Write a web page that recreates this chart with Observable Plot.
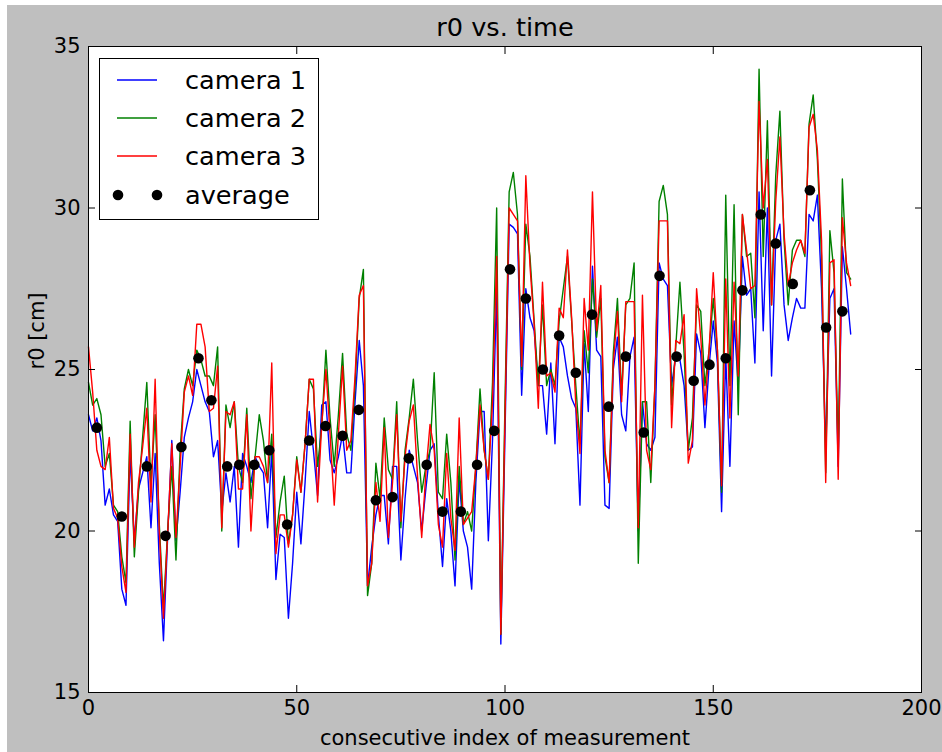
<!DOCTYPE html>
<html><head><meta charset="utf-8">
<script src="https://cdn.jsdelivr.net/npm/d3@7"></script>
<script src="https://cdn.jsdelivr.net/npm/@observablehq/plot@0.6"></script>
<style>
html,body{margin:0;padding:0;background:#fff;}
#wrap{position:relative;width:942px;height:752px;overflow:hidden;}
#bg{position:absolute;left:7px;top:5px;width:935px;height:747px;background:#bfbfbf;}
#chart{position:absolute;left:0;top:0;}
#legend{position:absolute;left:99px;top:58px;width:218px;height:160px;border:1px solid #000;background:#fff;}
</style></head><body>
<div id="wrap"><div id="bg"></div><div id="chart"></div><div id="legend"></div></div>
<script>
const titleText = "r0 vs. time";
const xLabel = "consecutive index of measurement";
const yLabel = "r0 [cm]";
const xTicks = [0, 50, 100, 150, 200];
const yTicks = [15, 20, 25, 30, 35];
const seriesNames = ["camera 1", "camera 2", "camera 3"];
const seriesColors = ["#0000ff", "#008000", "#ff0000"];
const avgName = "average";

const camera1 = [23.6,23.1,23.5,22.8,20.8,21.3,20.5,20.3,18.2,17.7,
22.4,19.7,21.3,21.8,22.3,20.1,22.4,19.0,16.6,19.8,
22.8,19.7,21.2,22.9,23.5,24.0,25.0,24.5,24.0,23.7,
22.3,22.8,20.6,21.8,20.9,22.0,19.5,22.4,22.0,21.5,
22.3,22.0,21.8,20.1,22.5,18.5,19.9,19.8,17.3,19.0,
21.2,19.6,21.5,23.7,22.5,21.1,23.9,24.0,22.2,21.8,
22.3,23.0,21.8,21.8,24.0,25.9,24.5,18.3,19.5,20.5,
21.1,21.1,19.6,22.0,22.0,19.1,21.0,22.5,22.0,21.5,
20.0,21.3,22.5,22.7,20.5,18.9,21.0,20.0,18.3,21.6,
20.0,19.5,18.2,21.5,23.7,23.7,19.7,22.8,27.5,16.5,
23.0,29.5,29.4,29.2,24.2,27.5,26.6,26.2,24.5,24.5,
23.0,25.2,22.7,26.0,25.7,24.8,24.1,23.8,20.8,25.8,
23.7,28.2,25.6,25.4,20.8,20.7,25.0,26.0,23.6,23.1,
25.4,26.0,20.0,24.0,22.7,22.5,22.9,28.3,27.8,27.6,
24.5,25.4,25.3,24.5,22.5,22.6,26.1,25.5,23.2,25.1,
26.5,25.2,20.6,25.4,22.0,26.5,24.5,28.5,27.3,27.5,
25.2,30.5,26.2,30.0,24.8,29.0,29.5,27.0,25.9,26.6,
27.2,26.9,26.9,29.8,29.6,30.4,27.5,22.5,27.2,27.5,
22.0,28.8,27.5,26.1];

const camera2 = [24.6,23.9,24.1,23.6,22.0,22.4,20.8,20.6,19.2,18.4,
23.4,19.2,21.2,22.9,24.6,21.4,23.6,20.2,17.6,20.0,
22.0,19.1,22.5,24.4,25.0,24.5,25.6,25.3,24.8,24.8,
24.5,25.7,20.0,23.9,23.2,24.0,22.0,21.5,23.8,21.0,
22.3,23.6,22.8,21.5,23.0,19.8,20.9,21.7,19.6,20.5,
22.3,21.2,22.7,24.7,24.4,22.0,23.2,25.6,23.5,22.0,
23.6,25.5,23.0,22.5,24.5,27.2,28.1,18.0,19.0,22.1,
21.0,23.5,21.9,21.6,24.0,20.1,22.5,23.5,24.7,22.8,
21.2,22.0,22.5,24.9,21.2,21.0,23.0,21.5,19.1,22.0,
20.2,20.6,20.0,22.0,24.4,22.5,21.6,24.6,30.0,16.8,
24.0,30.5,31.1,29.8,25.0,29.5,28.5,26.5,24.5,27.0,
24.5,25.0,24.5,26.5,27.5,28.5,26.5,24.5,22.7,26.2,
24.9,27.8,26.0,27.2,22.3,21.5,25.5,27.2,24.2,27.0,
27.2,28.3,19.0,24.0,24.0,21.5,24.5,30.2,30.7,29.8,
23.9,25.7,27.7,25.5,22.5,23.5,27.0,26.8,24.5,25.6,
27.2,25.6,21.2,30.4,24.5,30.1,23.6,29.8,28.5,28.6,
26.6,34.3,28.5,32.7,27.0,31.0,33.0,29.0,27.0,28.7,
29.0,29.0,28.5,32.6,33.5,31.5,28.5,21.8,29.3,28.0,
22.3,30.9,28.0,27.8];

const camera3 = [25.7,24.3,22.5,22.0,21.9,22.9,20.7,20.4,18.9,18.1,
23.0,19.5,21.5,22.6,23.8,20.9,24.7,20.0,17.3,19.9,
22.7,19.8,22.0,24.3,24.8,24.2,26.4,26.4,25.7,23.7,
23.8,25.1,20.1,23.7,23.6,24.0,21.3,21.3,23.6,20.0,
22.3,22.3,22.0,21.5,25.2,19.3,20.5,20.5,19.5,20.5,
22.2,21.2,22.7,24.7,24.7,20.9,23.3,25.0,23.0,20.8,
23.0,25.1,22.5,22.8,24.8,27.3,27.6,18.3,19.0,21.5,
20.3,23.2,19.8,21.5,23.6,20.3,22.3,23.4,23.9,21.7,
19.8,21.8,23.3,22.5,20.2,19.5,22.4,20.4,19.4,23.5,
20.2,20.4,20.6,22.0,23.9,22.5,21.6,24.0,28.5,16.8,
23.5,30.0,29.8,29.6,25.1,31.0,28.2,26.4,23.8,27.7,
24.8,24.9,24.3,26.9,26.6,28.7,26.6,23.9,22.4,27.2,
25.6,30.5,26.2,27.6,22.5,21.5,25.2,26.8,24.0,27.1,
27.1,27.1,20.1,27.3,22.5,21.9,24.5,29.6,29.6,29.6,
23.2,25.9,25.8,26.7,22.1,22.8,27.5,26.0,23.9,25.6,
28.0,25.6,21.4,27.8,23.5,27.7,24.8,29.8,28.7,27.5,
27.6,33.3,30.0,31.5,27.0,30.2,32.2,29.2,27.6,28.3,
28.7,29.0,28.6,32.5,32.9,31.8,29.0,21.5,28.3,28.4,
21.6,29.7,28.3,27.6];

const avgIndex = [2,8,14,18.5,22.3,26.4,29.5,33.3,36.2,39.8,43.4,47.7,53,56.9,61,64.9,69,73,76.9,81.2,85,89.4,93.3,97.4,101.2,105,109.1,113,117,120.9,124.9,129,133.3,137.1,141.2,145.3,149.1,153,157,161.4,165,169.1,173.2,177.1,181];
const avgValue = [23.2,20.45,22.0,19.85,22.6,25.35,24.05,22.0,22.05,22.05,22.5,20.2,22.8,23.25,22.95,23.75,20.95,21.05,22.25,22.05,20.6,20.6,22.05,23.1,28.1,27.2,25.0,26.05,24.9,26.7,23.85,25.4,23.05,27.9,25.4,24.65,25.15,25.35,27.45,29.8,28.9,27.65,30.55,26.3,26.8];

const cams = [camera1, camera2, camera3];
const lineMarks = cams.map((vals, k) =>
  Plot.line(vals.map((v, i) => ({index: i, r0: v})), {x: "index", y: "r0", stroke: seriesColors[k], strokeWidth: 1.4})
);
const avgData = avgIndex.map((x, i) => ({index: x, r0: avgValue[i]}));

const chart = Plot.plot({
  width: 942, height: 752,
  marginLeft: 88, marginRight: 21, marginTop: 46, marginBottom: 60,
  style: {background: "transparent", fontFamily: "DejaVu Sans", fontSize: "21px", color: "#000", overflow: "visible"},
  x: {domain: [0, 200]},
  y: {domain: [15, 35]},
  marks: [
    Plot.frame({fill: "white"}),
    ...lineMarks,
    Plot.dot(avgData, {x: "index", y: "r0", r: 5.3, fill: "black"}),
    Plot.frame({stroke: "black", strokeWidth: 1}),
    Plot.axisX({ticks: xTicks, anchor: "bottom", tickSize: -7, tickFormat: () => "", label: null}),
    Plot.axisX({ticks: xTicks, anchor: "top", tickSize: -7, tickFormat: () => "", label: null}),
    Plot.axisY({ticks: yTicks, anchor: "left", tickSize: -7, tickFormat: () => "", label: null}),
    Plot.axisY({ticks: yTicks, anchor: "right", tickSize: -7, tickFormat: () => "", label: null}),
    Plot.axisX({ticks: xTicks, anchor: "bottom", tickSize: 0, tickPadding: 8, label: null, fontSize: 21}),
    Plot.axisY({ticks: yTicks, anchor: "left", tickSize: 0, tickPadding: 8, label: null, fontSize: 21}),
    Plot.text([titleText], {frameAnchor: "top", lineAnchor: "bottom", dy: -11, fontSize: 25.6, fill: "black"}),
    Plot.text([xLabel], {frameAnchor: "bottom", lineAnchor: "bottom", dy: 52, fontSize: 21, fill: "black"}),
    Plot.text([yLabel], {frameAnchor: "left", dx: -51, rotate: -90, fontSize: 21, fill: "black"})
  ]
});
document.getElementById("chart").appendChild(chart);

// legend
const ns = "http://www.w3.org/2000/svg";
const lg = document.createElementNS(ns, "svg");
lg.setAttribute("width", 218); lg.setAttribute("height", 160);
lg.style.display = "block";
const rowsY = [21, 59, 97, 136];
const labels = [...seriesNames, avgName];
labels.forEach((name, k) => {
  const cy = rowsY[k];
  if (k < 3) {
    const l = document.createElementNS(ns, "line");
    l.setAttribute("x1", 17); l.setAttribute("x2", 57);
    l.setAttribute("y1", cy); l.setAttribute("y2", cy);
    l.setAttribute("stroke", seriesColors[k]); l.setAttribute("stroke-width", 1.4);
    lg.appendChild(l);
  } else {
    [18, 57].forEach(cx => {
      const c = document.createElementNS(ns, "circle");
      c.setAttribute("cx", cx); c.setAttribute("cy", cy); c.setAttribute("r", 5.3);
      c.setAttribute("fill", "black");
      lg.appendChild(c);
    });
  }
  const t = document.createElementNS(ns, "text");
  t.setAttribute("x", 85); t.setAttribute("y", cy + 9);
  t.setAttribute("font-family", "DejaVu Sans");
  t.setAttribute("font-size", 25.6);
  t.setAttribute("fill", "black");
  t.textContent = name;
  lg.appendChild(t);
});
document.getElementById("legend").appendChild(lg);
</script>
</body></html>
